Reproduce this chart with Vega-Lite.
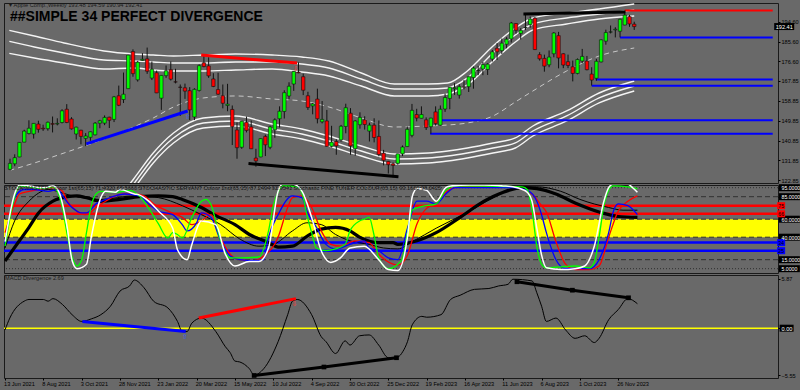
{
"$schema":"https://vega.github.io/schema/vega-lite/v6.json",
"background":"#696969",
"padding":{"left":2,"top":1,"right":0,"bottom":4},
"spacing":2,
"bounds":"flush",
"config":{"view":{"stroke":"#1a1a1a","strokeWidth":1},"axis":{"labelFont":"Liberation Sans","labelFontSize":5.6,"labelColor":"#000000","tickColor":"#000000","domain":false,"grid":false,"labelOverlap":false,"labelBound":false,"labelFlush":false},"text":{"font":"Liberation Sans"}},
"datasets":{
"candles":[
{"d":"2021-06-13","o":127.8,"h":132.6,"l":127.1,"c":130.5},{"d":"2021-06-20","o":130.3,"h":134.6,"l":129.2,"c":133.1},{"d":"2021-06-27","o":133.4,"h":140.0,"l":133.3,"c":140.0},{"d":"2021-07-04","o":140.1,"h":145.7,"l":140.1,"c":145.1},{"d":"2021-07-11","o":144.0,"h":150.0,"l":143.6,"c":146.4},{"d":"2021-07-18","o":143.8,"h":148.7,"l":141.7,"c":148.6},{"d":"2021-07-25","o":148.3,"h":149.8,"l":144.4,"c":145.9},{"d":"2021-08-01","o":146.4,"h":148.0,"l":145.2,"c":146.1},{"d":"2021-08-08","o":146.2,"h":149.4,"l":145.3,"c":149.1},{"d":"2021-08-15","o":148.5,"h":151.7,"l":144.5,"c":148.2},{"d":"2021-08-22","o":148.3,"h":150.9,"l":147.7,"c":148.6},{"d":"2021-08-29","o":149.0,"h":155.0,"l":148.6,"c":154.3},{"d":"2021-09-05","o":155.0,"h":157.3,"l":148.7,"c":149.0},{"d":"2021-09-12","o":150.6,"h":151.4,"l":145.8,"c":146.1},{"d":"2021-09-19","o":143.8,"h":147.1,"l":141.3,"c":146.9},{"d":"2021-09-26","o":145.5,"h":145.7,"l":139.1,"c":142.7},{"d":"2021-10-03","o":141.8,"h":144.2,"l":138.3,"c":142.9},{"d":"2021-10-10","o":142.3,"h":144.9,"l":140.7,"c":144.8},{"d":"2021-10-17","o":143.4,"h":149.2,"l":143.2,"c":148.7},{"d":"2021-10-24","o":148.7,"h":150.2,"l":146.4,"c":149.8},{"d":"2021-10-31","o":148.7,"h":152.2,"l":147.8,"c":151.3},{"d":"2021-11-07","o":151.4,"h":151.6,"l":146.5,"c":150.0},{"d":"2021-11-14","o":150.4,"h":161.0,"l":149.2,"c":160.6},{"d":"2021-11-21","o":161.1,"h":165.7,"l":156.4,"c":156.8},{"d":"2021-11-28","o":159.4,"h":171.6,"l":157.8,"c":161.8},{"d":"2021-12-05","o":164.3,"h":179.6,"l":164.3,"c":179.5},{"d":"2021-12-12","o":181.1,"h":182.1,"l":169.7,"c":171.1},{"d":"2021-12-19","o":168.3,"h":176.9,"l":167.5,"c":176.3},{"d":"2021-12-26","o":177.1,"h":180.4,"l":176.9,"c":177.6},
{"d":"2022-01-02","o":177.8,"h":182.9,"l":171.0,"c":172.2},{"d":"2022-01-09","o":169.1,"h":176.6,"l":168.2,"c":173.1},{"d":"2022-01-16","o":171.5,"h":172.5,"l":162.3,"c":162.4},{"d":"2022-01-23","o":160.0,"h":170.4,"l":154.7,"c":170.3},{"d":"2022-01-30","o":170.2,"h":174.8,"l":169.2,"c":172.4},{"d":"2022-02-06","o":172.9,"h":176.6,"l":168.0,"c":168.6},{"d":"2022-02-13","o":167.4,"h":173.3,"l":166.7,"c":167.3},{"d":"2022-02-20","o":165.0,"h":166.2,"l":152.0,"c":164.9},{"d":"2022-02-27","o":164.7,"h":166.6,"l":159.7,"c":163.2},{"d":"2022-03-06","o":163.4,"h":165.0,"l":150.1,"c":154.7},{"d":"2022-03-13","o":151.5,"h":164.5,"l":150.1,"c":164.0},{"d":"2022-03-20","o":163.5,"h":175.3,"l":163.0,"c":174.7},{"d":"2022-03-27","o":176.0,"h":179.6,"l":174.0,"c":174.3},{"d":"2022-04-03","o":174.6,"h":178.5,"l":169.2,"c":170.1},{"d":"2022-04-10","o":168.7,"h":171.3,"l":165.0,"c":165.3},{"d":"2022-04-17","o":163.9,"h":171.5,"l":161.5,"c":161.8},{"d":"2022-04-24","o":161.1,"h":166.2,"l":155.4,"c":157.7},{"d":"2022-05-01","o":156.7,"h":166.5,"l":154.1,"c":157.3},{"d":"2022-05-08","o":154.9,"h":156.7,"l":138.8,"c":147.1},{"d":"2022-05-15","o":145.6,"h":149.0,"l":132.6,"c":137.6},{"d":"2022-05-22","o":137.8,"h":149.7,"l":137.1,"c":149.6},{"d":"2022-05-29","o":149.1,"h":151.7,"l":144.5,"c":145.4},{"d":"2022-06-05","o":147.0,"h":149.9,"l":137.0,"c":137.1},{"d":"2022-06-12","o":132.9,"h":137.1,"l":129.0,"c":131.6},{"d":"2022-06-19","o":133.4,"h":141.9,"l":133.3,"c":141.7},{"d":"2022-06-26","o":142.7,"h":143.5,"l":133.8,"c":138.9},{"d":"2022-07-03","o":137.8,"h":147.6,"l":136.9,"c":147.0},{"d":"2022-07-10","o":145.7,"h":150.9,"l":142.1,"c":150.2},{"d":"2022-07-17","o":150.7,"h":156.3,"l":146.7,"c":154.1},{"d":"2022-07-24","o":154.0,"h":163.6,"l":150.8,"c":162.5},{"d":"2022-07-31","o":161.0,"h":167.2,"l":159.6,"c":165.4},{"d":"2022-08-07","o":166.4,"h":172.2,"l":163.3,"c":172.1},{"d":"2022-08-14","o":171.8,"h":176.2,"l":171.3,"c":171.5},{"d":"2022-08-21","o":169.7,"h":171.1,"l":161.4,"c":163.6},{"d":"2022-08-28","o":161.1,"h":162.9,"l":154.7,"c":155.8},{"d":"2022-09-04","o":156.5,"h":157.8,"l":152.7,"c":157.4},{"d":"2022-09-11","o":159.6,"h":164.3,"l":148.6,"c":150.7},{"d":"2022-09-18","o":149.3,"h":158.7,"l":148.6,"c":150.4},{"d":"2022-09-25","o":149.7,"h":154.7,"l":138.0,"c":138.2},{"d":"2022-10-02","o":138.2,"h":147.5,"l":137.7,"c":140.1},{"d":"2022-10-09","o":140.4,"h":141.4,"l":134.4,"c":138.4},{"d":"2022-10-16","o":141.1,"h":147.9,"l":140.3,"c":147.3},{"d":"2022-10-23","o":147.2,"h":157.5,"l":144.1,"c":155.7},{"d":"2022-10-30","o":153.2,"h":155.5,"l":134.4,"c":138.4},{"d":"2022-11-06","o":137.1,"h":150.0,"l":134.0,"c":149.7},{"d":"2022-11-13","o":148.0,"h":153.6,"l":146.2,"c":151.3},{"d":"2022-11-20","o":150.2,"h":151.8,"l":145.8,"c":148.1},{"d":"2022-11-27","o":145.1,"h":148.9,"l":140.4,"c":147.8},{"d":"2022-12-04","o":147.8,"h":150.9,"l":140.0,"c":142.2},{"d":"2022-12-11","o":142.7,"h":149.9,"l":133.7,"c":134.5},{"d":"2022-12-18","o":135.1,"h":136.6,"l":129.6,"c":131.9},{"d":"2022-12-25","o":131.4,"h":131.6,"l":125.9,"c":129.9},
{"d":"2023-01-01","o":130.3,"h":130.9,"l":124.2,"c":129.6},{"d":"2023-01-08","o":130.5,"h":134.9,"l":129.9,"c":134.8},{"d":"2023-01-15","o":134.8,"h":138.6,"l":133.8,"c":137.9},{"d":"2023-01-22","o":138.1,"h":147.2,"l":137.9,"c":145.9},{"d":"2023-01-29","o":143.2,"h":157.4,"l":142.3,"c":154.5},{"d":"2023-02-05","o":152.6,"h":155.2,"l":149.5,"c":151.0},{"d":"2023-02-12","o":150.9,"h":156.3,"l":150.9,"c":152.6},{"d":"2023-02-19","o":150.2,"h":151.3,"l":145.6,"c":146.7},{"d":"2023-02-26","o":147.1,"h":151.1,"l":143.9,"c":151.0},{"d":"2023-03-05","o":153.8,"h":156.3,"l":147.6,"c":148.5},{"d":"2023-03-12","o":147.8,"h":156.7,"l":147.6,"c":155.0},{"d":"2023-03-19","o":155.1,"h":162.1,"l":153.8,"c":160.3},{"d":"2023-03-26","o":159.9,"h":165.0,"l":155.0,"c":164.9},{"d":"2023-04-02","o":164.3,"h":166.8,"l":161.5,"c":164.7},{"d":"2023-04-09","o":161.4,"h":166.3,"l":159.8,"c":165.2},{"d":"2023-04-16","o":165.1,"h":168.2,"l":164.0,"c":165.0},{"d":"2023-04-23","o":165.2,"h":169.9,"l":162.8,"c":169.7},{"d":"2023-04-30","o":169.3,"h":174.3,"l":164.3,"c":173.6},{"d":"2023-05-07","o":172.5,"h":174.6,"l":170.4,"c":172.6},{"d":"2023-05-14","o":173.2,"h":176.4,"l":170.4,"c":175.2},{"d":"2023-05-21","o":173.0,"h":175.8,"l":170.5,"c":175.4},{"d":"2023-05-28","o":177.7,"h":181.8,"l":176.6,"c":181.0},{"d":"2023-06-04","o":182.6,"h":184.9,"l":177.3,"c":181.0},{"d":"2023-06-11","o":181.5,"h":187.0,"l":180.0,"c":184.9},{"d":"2023-06-18","o":184.4,"h":187.6,"l":182.6,"c":186.7},{"d":"2023-06-25","o":186.8,"h":194.5,"l":185.2,"c":194.0},{"d":"2023-07-02","o":193.8,"h":193.9,"l":189.2,"c":190.7},{"d":"2023-07-09","o":189.3,"h":191.7,"l":186.6,"c":190.7},{"d":"2023-07-16","o":191.9,"h":198.2,"l":190.8,"c":192.0},{"d":"2023-07-23","o":193.3,"h":197.0,"l":191.9,"c":195.8},{"d":"2023-07-30","o":196.2,"h":196.7,"l":181.9,"c":182.0},{"d":"2023-08-06","o":179.7,"h":180.8,"l":177.0,"c":177.8},{"d":"2023-08-13","o":178.0,"h":179.7,"l":172.0,"c":174.5},{"d":"2023-08-20","o":175.1,"h":181.6,"l":174.0,"c":178.6},{"d":"2023-08-27","o":180.1,"h":189.9,"l":178.5,"c":189.5},{"d":"2023-09-03","o":188.3,"h":190.0,"l":173.5,"c":178.2},{"d":"2023-09-10","o":180.1,"h":180.3,"l":173.6,"c":175.0},{"d":"2023-09-17","o":176.5,"h":179.7,"l":173.6,"c":174.8},{"d":"2023-09-24","o":174.2,"h":177.0,"l":167.6,"c":171.2},{"d":"2023-10-01","o":171.2,"h":178.0,"l":170.8,"c":177.5},{"d":"2023-10-08","o":176.8,"h":182.3,"l":175.8,"c":178.9},{"d":"2023-10-15","o":176.8,"h":179.1,"l":172.6,"c":172.9},{"d":"2023-10-22","o":170.9,"h":174.0,"l":165.7,"c":168.2},{"d":"2023-10-29","o":169.0,"h":177.8,"l":167.9,"c":176.7},{"d":"2023-11-05","o":176.4,"h":186.6,"l":176.2,"c":186.4},{"d":"2023-11-12","o":185.8,"h":191.0,"l":184.2,"c":189.7},{"d":"2023-11-19","o":189.9,"h":192.9,"l":189.3,"c":190.0},{"d":"2023-11-26","o":190.9,"h":192.1,"l":187.5,"c":191.2},{"d":"2023-12-03","o":190.3,"h":196.0,"l":187.5,"c":195.7},{"d":"2023-12-10","o":193.1,"h":199.6,"l":193.0,"c":197.6},{"d":"2023-12-17","o":196.9,"h":197.7,"l":192.3,"c":193.6},{"d":"2023-12-24","o":193.5,"h":194.6,"l":190.9,"c":192.4}],
"bands":[
{"d":"2021-06-12","u1":190.7,"u2":185.7,"u3":180.3,"m":127.3},
{"d":"2021-07-19","u1":188.14,"u2":183.17,"u3":178.19,"m":130.67},
{"d":"2021-09-01","u1":184.98,"u2":180.45,"u3":175.93,"m":135.2},
{"d":"2021-10-30","u1":181.35,"u2":177.28,"u3":173.21,"m":141.54,"l1":106.69,"l2":104.43,"l3":102.17},
{"d":"2021-12-13","u1":179.99,"u2":176.83,"u3":173.67,"m":146.97,"l1":123.43,"l2":121.17,"l3":118.91},
{"d":"2022-01-11","u1":179.54,"u2":176.38,"u3":172.76,"m":151.04,"l1":135.2,"l2":132.94,"l3":130.67},
{"d":"2022-02-10","u1":179.09,"u2":175.93,"u3":172.31,"m":156.02,"l1":144.25,"l2":141.99,"l3":139.73},
{"d":"2022-03-26","u1":179.54,"u2":175.93,"u3":172.31,"m":160.09,"l1":151.04,"l2":148.78,"l3":146.51},
{"d":"2022-05-13","u1":179.99,"u2":176.38,"u3":172.76,"m":161.0,"l1":151.94,"l2":149.68,"l3":147.42},
{"d":"2022-07-06","u1":179.54,"u2":176.38,"u3":173.21,"m":159.64,"l1":148.32,"l2":146.06,"l3":143.8},
{"d":"2022-08-19","u1":178.64,"u2":175.47,"u3":171.86,"m":158.73,"l1":146.06,"l2":143.8,"l3":141.54},
{"d":"2022-09-28","u1":176.83,"u2":173.67,"u3":170.04,"m":156.02,"l1":142.89,"l2":140.63,"l3":138.37},
{"d":"2022-11-15","u1":171.4,"u2":168.69,"u3":165.52,"m":151.04,"l1":138.37,"l2":136.11,"l3":133.84},
{"d":"2023-01-03","u1":166.42,"u2":164.16,"u3":161.0,"m":146.97,"l1":134.75,"l2":132.49,"l3":130.22},
{"d":"2023-02-22","u1":166.42,"u2":164.16,"u3":161.0,"m":147.42,"l1":135.2,"l2":132.94,"l3":130.67},
{"d":"2023-03-23","u1":166.88,"u2":164.61,"u3":161.9,"m":147.87,"l1":136.11,"l2":133.84,"l3":131.58},
{"d":"2023-04-21","u1":172.31,"u2":169.14,"u3":166.0,"m":148.78,"l1":137.46,"l2":135.2,"l3":132.94},
{"d":"2023-05-29","u1":183.62,"u2":180.45,"u3":176.83,"m":151.94,"l1":139.73,"l2":137.46,"l3":135.2},
{"d":"2023-07-01","u1":191.76,"u2":188.59,"u3":185.43,"m":158.28,"l1":141.99,"l2":139.73,"l3":137.46},
{"d":"2023-07-27","u1":196.29,"u2":193.57,"u3":190.86,"m":163.26,"l1":147.42,"l2":145.16,"l3":142.89},
{"d":"2023-09-15","u1":198.55,"u2":196.29,"u3":193.57,"m":172.31,"l1":154.21,"l2":151.94,"l3":149.68},
{"d":"2023-11-02","u1":200.36,"u2":198.1,"u3":195.83,"m":179.09,"l1":162.35,"l2":160.09,"l3":157.83},
{"d":"2023-12-24","u1":202.62,"u2":199.91,"u3":197.19,"m":182.71,"l1":167.78,"l2":165.52,"l3":163.26}],
"pBull":[{"d":"2021-10-04","p":139.3},{"d":"2022-03-03","p":154.2}],
"pBear":[{"d":"2022-03-23","p":179.5},{"d":"2022-08-12","p":175.9}],
"pBlack":[{"seg":"low","d":"2022-06-01","p":130.4},{"seg":"low","d":"2023-01-09","p":124.5},{"seg":"high","d":"2023-07-13","p":198.1},{"seg":"high","d":"2023-12-11","p":199.0}],
"pRes":[{"d":"2023-12-10","end":"2024-07-16","p":199.62}],
"pSup":[{"d":"2023-12-03","end":"2024-07-16","p":187.45},{"d":"2023-10-28","end":"2024-07-16","p":168.4},{"d":"2023-10-22","end":"2024-07-16","p":165.67},{"d":"2023-03-10","end":"2024-07-16","p":150.0},{"d":"2023-02-25","end":"2024-07-16","p":143.9}],
"pArrowUp":[{"d":"2022-03-03","p":151.3,"sym":"⇧"}],
"pArrowDn":[{"d":"2022-08-10","p":173.4,"sym":"⇩"}],
"pTitle":[{"d":"2021-06-13","p":194.93,"t":"##SIMPLE 34 PERFECT DIVERGENCE"}],
"pHeader":[{"d":"2021-06-12","p":201.26,"t":"▾  Apple Comp.,Weekly  193.48 194.59 190.94 192.41"}],
"pLast":[{"p":192.41}],
"stA":[{"d":"2021-06-13","v":35},{"d":"2021-06-27","v":88},{"d":"2021-07-04","v":98},{"d":"2021-07-18","v":97},{"d":"2021-08-08","v":95},{"d":"2021-08-22","v":97},{"d":"2021-08-29","v":93},{"d":"2021-09-12","v":50},{"d":"2021-09-19","v":14},{"d":"2021-09-26","v":5},{"d":"2021-10-10","v":10},{"d":"2021-10-17","v":40},{"d":"2021-10-31","v":84},{"d":"2021-11-07","v":91},{"d":"2021-11-21","v":90},{"d":"2021-11-28","v":93},{"d":"2021-12-19","v":88},{"d":"2021-12-26","v":87},{"d":"2022-01-09","v":80},{"d":"2022-01-23","v":69},{"d":"2022-02-13","v":50},{"d":"2022-02-20","v":26},{"d":"2022-03-06","v":15},{"d":"2022-03-13","v":32},{"d":"2022-03-27","v":58},{"d":"2022-04-17","v":54},{"d":"2022-05-01","v":21},{"d":"2022-05-15","v":8},{"d":"2022-06-05","v":13},{"d":"2022-06-19","v":13},{"d":"2022-07-03","v":28},{"d":"2022-07-17","v":91},{"d":"2022-07-24","v":99},{"d":"2022-08-07","v":99},{"d":"2022-08-21","v":91},{"d":"2022-09-04","v":62},{"d":"2022-09-18","v":25},{"d":"2022-10-02","v":12},{"d":"2022-10-16","v":17},{"d":"2022-10-30","v":28},{"d":"2022-11-20","v":30},{"d":"2022-12-11","v":15},{"d":"2022-12-25","v":4},{"d":"2023-01-08","v":3},{"d":"2023-01-22","v":40},{"d":"2023-01-29","v":85},{"d":"2023-02-05","v":94},{"d":"2023-02-19","v":92},{"d":"2023-03-05","v":80},{"d":"2023-03-19","v":95},{"d":"2023-03-26","v":97},{"d":"2023-04-23","v":98},{"d":"2023-05-14","v":98},{"d":"2023-06-11","v":97},{"d":"2023-06-25","v":96},{"d":"2023-07-09","v":93},{"d":"2023-07-16","v":90},{"d":"2023-07-23","v":80},{"d":"2023-07-30","v":50},{"d":"2023-08-06","v":20},{"d":"2023-08-13","v":6},{"d":"2023-09-03","v":4},{"d":"2023-09-24","v":5},{"d":"2023-10-08","v":8},{"d":"2023-10-22","v":30},{"d":"2023-11-05","v":80},{"d":"2023-11-12","v":95},{"d":"2023-11-19","v":99},{"d":"2023-12-10","v":99},{"d":"2023-12-17","v":95},{"d":"2023-12-24","v":90}],
"stB":[{"d":"2021-06-13","v":30},{"d":"2021-06-27","v":85},{"d":"2021-07-04","v":97},{"d":"2021-07-18","v":96},{"d":"2021-08-08","v":94},{"d":"2021-08-22","v":96},{"d":"2021-08-29","v":90},{"d":"2021-09-05","v":72},{"d":"2021-09-12","v":42},{"d":"2021-09-19","v":18},{"d":"2021-09-26","v":8},{"d":"2021-10-03","v":15},{"d":"2021-10-10","v":45},{"d":"2021-10-17","v":75},{"d":"2021-10-24","v":88},{"d":"2021-10-31","v":91},{"d":"2021-11-21","v":90},{"d":"2021-12-12","v":92},{"d":"2021-12-26","v":86},{"d":"2022-01-09","v":72},{"d":"2022-01-23","v":55},{"d":"2022-02-06","v":39},{"d":"2022-02-13","v":45},{"d":"2022-02-20","v":43},{"d":"2022-02-27","v":39},{"d":"2022-03-13","v":62},{"d":"2022-03-27","v":80},{"d":"2022-04-03","v":82},{"d":"2022-04-10","v":76},{"d":"2022-04-24","v":36},{"d":"2022-05-08","v":17},{"d":"2022-05-22","v":17},{"d":"2022-06-19","v":18},{"d":"2022-07-03","v":47},{"d":"2022-07-10","v":75},{"d":"2022-07-17","v":90},{"d":"2022-07-24","v":97},{"d":"2022-08-14","v":96},{"d":"2022-08-21","v":89},{"d":"2022-08-28","v":65},{"d":"2022-09-04","v":45},{"d":"2022-09-11","v":28},{"d":"2022-09-25","v":25},{"d":"2022-10-09","v":27},{"d":"2022-10-23","v":32},{"d":"2022-10-30","v":47},{"d":"2022-11-13","v":58},{"d":"2022-11-20","v":60},{"d":"2022-11-27","v":62},{"d":"2022-12-04","v":43},{"d":"2022-12-11","v":17},{"d":"2022-12-25","v":5},{"d":"2023-01-08","v":10},{"d":"2023-01-15","v":17},{"d":"2023-01-22","v":45},{"d":"2023-01-29","v":70},{"d":"2023-02-12","v":74},{"d":"2023-03-05","v":77},{"d":"2023-03-19","v":92},{"d":"2023-04-02","v":97},{"d":"2023-07-09","v":96},{"d":"2023-07-16","v":93},{"d":"2023-07-23","v":70},{"d":"2023-07-30","v":30},{"d":"2023-08-06","v":10},{"d":"2023-08-13","v":6},{"d":"2023-09-03","v":7},{"d":"2023-09-24","v":8},{"d":"2023-10-15","v":6},{"d":"2023-10-22","v":12},{"d":"2023-10-29","v":40},{"d":"2023-11-05","v":75},{"d":"2023-11-12","v":92},{"d":"2023-11-19","v":97},{"d":"2023-12-10","v":96},{"d":"2023-12-24","v":94}],
"stC":[{"d":"2021-06-13","v":45},{"d":"2021-06-27","v":77},{"d":"2021-07-04","v":88},{"d":"2021-07-18","v":91},{"d":"2021-08-01","v":93},{"d":"2021-08-22","v":95},{"d":"2021-08-29","v":94},{"d":"2021-09-05","v":91},{"d":"2021-09-12","v":80},{"d":"2021-09-26","v":69},{"d":"2021-10-10","v":65},{"d":"2021-10-24","v":73},{"d":"2021-11-07","v":80},{"d":"2021-11-21","v":86},{"d":"2021-12-05","v":88},{"d":"2021-12-19","v":88},{"d":"2022-01-02","v":86},{"d":"2022-01-16","v":77},{"d":"2022-02-06","v":69},{"d":"2022-02-27","v":62},{"d":"2022-03-13","v":54},{"d":"2022-03-27","v":58},{"d":"2022-04-10","v":65},{"d":"2022-04-24","v":39},{"d":"2022-05-08","v":21},{"d":"2022-05-22","v":15},{"d":"2022-06-12","v":14},{"d":"2022-06-26","v":19},{"d":"2022-07-17","v":40},{"d":"2022-07-31","v":73},{"d":"2022-08-07","v":84},{"d":"2022-08-21","v":86},{"d":"2022-09-04","v":73},{"d":"2022-09-18","v":47},{"d":"2022-10-02","v":32},{"d":"2022-10-16","v":30},{"d":"2022-11-06","v":36},{"d":"2022-11-27","v":34},{"d":"2022-12-11","v":21},{"d":"2023-01-01","v":10},{"d":"2023-01-08","v":9},{"d":"2023-01-22","v":20},{"d":"2023-02-05","v":55},{"d":"2023-02-19","v":72},{"d":"2023-03-05","v":77},{"d":"2023-03-19","v":90},{"d":"2023-04-02","v":95},{"d":"2023-04-23","v":96},{"d":"2023-06-25","v":96},{"d":"2023-07-09","v":93},{"d":"2023-07-23","v":88},{"d":"2023-08-06","v":75},{"d":"2023-08-13","v":68},{"d":"2023-08-27","v":35},{"d":"2023-09-10","v":10},{"d":"2023-09-24","v":4},{"d":"2023-10-15","v":4},{"d":"2023-10-29","v":8},{"d":"2023-11-12","v":40},{"d":"2023-11-26","v":69},{"d":"2023-12-10","v":80},{"d":"2023-12-24","v":86}],
"stD":[{"d":"2021-06-13","v":35},{"d":"2021-06-27","v":84},{"d":"2021-07-11","v":93},{"d":"2021-07-25","v":93},{"d":"2021-08-15","v":91},{"d":"2021-08-29","v":93},{"d":"2021-09-05","v":86},{"d":"2021-09-19","v":73},{"d":"2021-10-03","v":67},{"d":"2021-10-10","v":67},{"d":"2021-10-24","v":77},{"d":"2021-11-07","v":82},{"d":"2021-11-21","v":86},{"d":"2021-12-05","v":88},{"d":"2021-12-26","v":86},{"d":"2022-01-09","v":77},{"d":"2022-01-23","v":69},{"d":"2022-02-13","v":65},{"d":"2022-02-27","v":54},{"d":"2022-03-06","v":47},{"d":"2022-03-20","v":56},{"d":"2022-03-27","v":67},{"d":"2022-04-10","v":62},{"d":"2022-04-24","v":36},{"d":"2022-05-08","v":19},{"d":"2022-05-22","v":15},{"d":"2022-06-12","v":14},{"d":"2022-06-26","v":15},{"d":"2022-07-03","v":40},{"d":"2022-07-17","v":65},{"d":"2022-08-07","v":86},{"d":"2022-08-21","v":84},{"d":"2022-08-28","v":69},{"d":"2022-09-11","v":51},{"d":"2022-09-25","v":32},{"d":"2022-10-09","v":27},{"d":"2022-10-30","v":32},{"d":"2022-11-20","v":36},{"d":"2022-11-27","v":28},{"d":"2022-12-11","v":25},{"d":"2022-12-25","v":17},{"d":"2023-01-08","v":15},{"d":"2023-01-22","v":50},{"d":"2023-02-05","v":80},{"d":"2023-02-19","v":80},{"d":"2023-03-05","v":77},{"d":"2023-03-19","v":88},{"d":"2023-04-02","v":95},{"d":"2023-06-25","v":95},{"d":"2023-07-16","v":92},{"d":"2023-07-30","v":80},{"d":"2023-08-06","v":65},{"d":"2023-08-13","v":45},{"d":"2023-08-27","v":15},{"d":"2023-09-10","v":5},{"d":"2023-10-15","v":5},{"d":"2023-10-29","v":15},{"d":"2023-11-12","v":45},{"d":"2023-11-19","v":69},{"d":"2023-11-26","v":77},{"d":"2023-12-10","v":75},{"d":"2023-12-24","v":65}],
"stE":[{"d":"2021-06-13","v":28},{"d":"2021-06-27","v":58},{"d":"2021-07-18","v":80},{"d":"2021-08-01","v":89},{"d":"2021-08-15","v":93},{"d":"2021-09-05","v":89},{"d":"2021-09-19","v":86},{"d":"2021-10-31","v":82},{"d":"2021-12-19","v":86},{"d":"2022-01-23","v":84},{"d":"2022-02-27","v":75},{"d":"2022-03-27","v":65},{"d":"2022-04-24","v":54},{"d":"2022-05-22","v":38},{"d":"2022-06-19","v":30},{"d":"2022-07-10","v":32},{"d":"2022-08-07","v":47},{"d":"2022-08-28","v":56},{"d":"2022-09-18","v":54},{"d":"2022-10-09","v":43},{"d":"2022-10-30","v":36},{"d":"2022-11-27","v":32},{"d":"2022-12-18","v":28},{"d":"2023-01-08","v":27},{"d":"2023-01-29","v":35},{"d":"2023-03-05","v":50},{"d":"2023-04-23","v":69},{"d":"2023-05-28","v":84},{"d":"2023-07-02","v":95},{"d":"2023-07-30","v":96},{"d":"2023-09-03","v":91},{"d":"2023-10-01","v":82},{"d":"2023-11-12","v":73},{"d":"2023-12-03","v":70},{"d":"2023-12-24","v":70}],
"stF":[{"d":"2021-06-13","v":13.5},{"d":"2021-06-20","v":21},{"d":"2021-07-04","v":36},{"d":"2021-07-18","v":51},{"d":"2021-08-01","v":67},{"d":"2021-08-22","v":80},{"d":"2021-09-12","v":85},{"d":"2021-09-26","v":86},{"d":"2021-10-10","v":84},{"d":"2021-10-31","v":80},{"d":"2021-11-28","v":82},{"d":"2021-12-26","v":85},{"d":"2022-01-23","v":86},{"d":"2022-02-13","v":85},{"d":"2022-02-27","v":82},{"d":"2022-03-27","v":73},{"d":"2022-04-17","v":64},{"d":"2022-05-15","v":54},{"d":"2022-06-05","v":43},{"d":"2022-07-03","v":34},{"d":"2022-07-17","v":29},{"d":"2022-08-07","v":30},{"d":"2022-08-28","v":41},{"d":"2022-09-18","v":49},{"d":"2022-10-09","v":51},{"d":"2022-10-30","v":47},{"d":"2022-11-13","v":40},{"d":"2022-12-11","v":34},{"d":"2023-01-01","v":34},{"d":"2023-01-08","v":32},{"d":"2023-02-05","v":36},{"d":"2023-03-05","v":45},{"d":"2023-04-09","v":62},{"d":"2023-05-14","v":80},{"d":"2023-06-11","v":90},{"d":"2023-07-09","v":95},{"d":"2023-07-30","v":94},{"d":"2023-08-27","v":88},{"d":"2023-09-24","v":78},{"d":"2023-10-29","v":68},{"d":"2023-11-26","v":63},{"d":"2023-12-24","v":62}],
"stHeader":[{"d":"2021-06-12","v":92.1,"t":"STOCH MASTER Colour 1st(65,15) 71.4320 65.5660 STOCHASTIC SERVANT Colour 2nd(65,15) 87.2494 92.9541 Stochastic FINE TUNER COLOUR(65,15) 93.1600 98.0425"}],
"macd":[{"d":"2021-06-13","v":-0.2},{"d":"2021-06-20","v":1.2},{"d":"2021-07-11","v":3.2},{"d":"2021-07-18","v":3.4},{"d":"2021-08-08","v":3.4},{"d":"2021-08-15","v":3.2},{"d":"2021-08-22","v":3.5},{"d":"2021-09-05","v":2.8},{"d":"2021-09-19","v":1.6},{"d":"2021-10-03","v":0.8},{"d":"2021-10-17","v":1.1},{"d":"2021-10-31","v":1.6},{"d":"2021-11-14","v":2.6},{"d":"2021-11-28","v":4.4},{"d":"2021-12-12","v":5.0},{"d":"2021-12-19","v":5.7},{"d":"2022-01-02","v":4.8},{"d":"2022-01-16","v":3.2},{"d":"2022-02-06","v":2.4},{"d":"2022-02-20","v":0.8},{"d":"2022-02-27","v":-0.4},{"d":"2022-03-06","v":-0.4},{"d":"2022-03-13","v":0.6},{"d":"2022-03-27","v":1.2},{"d":"2022-04-17","v":-0.4},{"d":"2022-05-01","v":-2.2},{"d":"2022-05-08","v":-2.9},{"d":"2022-05-15","v":-3.9},{"d":"2022-05-22","v":-4.0},{"d":"2022-06-05","v":-4.8},{"d":"2022-06-12","v":-5.55},{"d":"2022-06-26","v":-4.8},{"d":"2022-07-17","v":-1.6},{"d":"2022-07-31","v":1.6},{"d":"2022-08-07","v":3.2},{"d":"2022-08-14","v":3.4},{"d":"2022-09-04","v":1.6},{"d":"2022-09-18","v":-1.0},{"d":"2022-09-25","v":-1.6},{"d":"2022-10-09","v":-3.0},{"d":"2022-10-23","v":-1.5},{"d":"2022-10-30","v":-2.0},{"d":"2022-11-13","v":-0.9},{"d":"2022-11-27","v":-0.8},{"d":"2022-12-11","v":-2.0},{"d":"2022-12-25","v":-3.5},{"d":"2023-01-08","v":-3.4},{"d":"2023-01-15","v":-2.8},{"d":"2023-01-22","v":-1.6},{"d":"2023-01-29","v":0.4},{"d":"2023-02-12","v":1.4},{"d":"2023-02-19","v":1.3},{"d":"2023-03-12","v":1.6},{"d":"2023-03-26","v":3.4},{"d":"2023-04-09","v":3.9},{"d":"2023-04-30","v":4.6},{"d":"2023-05-21","v":4.7},{"d":"2023-06-04","v":5.0},{"d":"2023-06-18","v":5.2},{"d":"2023-06-25","v":5.8},{"d":"2023-07-23","v":5.6},{"d":"2023-07-30","v":4.2},{"d":"2023-08-06","v":2.6},{"d":"2023-08-13","v":0.8},{"d":"2023-08-27","v":1.2},{"d":"2023-09-10","v":-0.2},{"d":"2023-09-24","v":-1.2},{"d":"2023-10-08","v":-0.9},{"d":"2023-10-22","v":-1.7},{"d":"2023-10-29","v":-1.2},{"d":"2023-11-12","v":1.0},{"d":"2023-11-26","v":2.2},{"d":"2023-12-10","v":3.5},{"d":"2023-12-24","v":2.9}],
"mBull":[{"d":"2021-10-04","v":0.8},{"d":"2022-03-04","v":-0.4}],
"mBear":[{"d":"2022-03-23","v":1.2},{"d":"2022-08-12","v":3.5}],
"mBlack":[{"seg":"low","d":"2022-06-12","v":-5.6},{"seg":"low","d":"2022-09-22","v":-4.6},{"seg":"low","d":"2023-01-06","v":-3.5},{"seg":"high","d":"2023-07-01","v":5.5},{"seg":"high","d":"2023-09-20","v":4.5},{"seg":"high","d":"2023-12-11","v":3.6}],
"mArrowUp":[{"d":"2022-03-03","v":-1.0,"sym":"⇧"}],
"mArrowDn":[{"d":"2022-08-10","v":2.9,"sym":"⇩"}],
"mHeader":[{"d":"2021-06-13","v":5.67,"t":"MACD Divergence 2.69"}]
},
"vconcat":[
{"width":774,"height":180,
"resolve":{"axis":{"y":"independent"}},
"layer":[
{"data":{"name":"bands"},"transform":[{"fold":["u1","u2","u3","l1","l2","l3"],"as":["band","p"]},{"filter":"isValid(datum.p)"}],"mark":{"type":"line","color":"#f4f4f4","strokeWidth":1.4,"clip":true,"interpolate":"monotone"},"encoding":{"x":{"field":"d","type":"temporal","scale":{"type":"utc","domain":[{"year":2021,"month":6,"date":11,"hours":12,"utc":true},{"year":2024,"month":7,"date":16,"hours":10,"utc":true}]},"axis":null},"y":{"field":"p","type":"quantitative","scale":{"domain":[121.62,203.07],"nice":false,"zero":false},"axis":{"orient":"right","title":null,"zindex":1,"labelOverlap":false,"values":[122.85,131.85,140.85,149.85,158.85,167.85,176.6,185.6,194.6],"format":".2f","tickSize":2,"labelPadding":1}},"detail":{"field":"band"}}},
{"data":{"name":"bands"},"mark":{"type":"line","color":"#c8c8c8","strokeWidth":1,"strokeDash":[5,4],"clip":true,"interpolate":"monotone"},"encoding":{"x":{"field":"d","type":"temporal","scale":{"type":"utc","domain":[{"year":2021,"month":6,"date":11,"hours":12,"utc":true},{"year":2024,"month":7,"date":16,"hours":10,"utc":true}]},"axis":null},"y":{"field":"m","type":"quantitative","scale":{"domain":[121.62,203.07],"nice":false,"zero":false},"axis":null}}},
{"data":{"name":"pSup"},"mark":{"type":"rule","color":"#0000ff","strokeWidth":2},"encoding":{"x":{"field":"d","type":"temporal","scale":{"type":"utc","domain":[{"year":2021,"month":6,"date":11,"hours":12,"utc":true},{"year":2024,"month":7,"date":16,"hours":10,"utc":true}]},"axis":null},"x2":{"field":"end"},"y":{"field":"p","type":"quantitative","scale":{"domain":[121.62,203.07],"nice":false,"zero":false},"axis":null}}},
{"data":{"name":"pRes"},"mark":{"type":"rule","color":"#ff0000","strokeWidth":2},"encoding":{"x":{"field":"d","type":"temporal","scale":{"type":"utc","domain":[{"year":2021,"month":6,"date":11,"hours":12,"utc":true},{"year":2024,"month":7,"date":16,"hours":10,"utc":true}]},"axis":null},"x2":{"field":"end"},"y":{"field":"p","type":"quantitative","scale":{"domain":[121.62,203.07],"nice":false,"zero":false},"axis":null}}},
{"data":{"name":"candles"},"mark":{"type":"rule","color":"#111111","strokeWidth":1},"encoding":{"x":{"field":"d","type":"temporal","scale":{"type":"utc","domain":[{"year":2021,"month":6,"date":11,"hours":12,"utc":true},{"year":2024,"month":7,"date":16,"hours":10,"utc":true}]},"axis":null},"y":{"field":"l","type":"quantitative","scale":{"domain":[121.62,203.07],"nice":false,"zero":false},"axis":null},"y2":{"field":"h"}}},
{"data":{"name":"candles"},"mark":{"type":"bar","size":3.4,"stroke":"#111111","strokeWidth":0.6},"encoding":{"x":{"field":"d","type":"temporal","scale":{"type":"utc","domain":[{"year":2021,"month":6,"date":11,"hours":12,"utc":true},{"year":2024,"month":7,"date":16,"hours":10,"utc":true}]},"axis":null},"y":{"field":"o","type":"quantitative","scale":{"domain":[121.62,203.07],"nice":false,"zero":false},"axis":null},"y2":{"field":"c"},"color":{"condition":{"test":"datum.c >= datum.o","value":"#00ff00"},"value":"#ff0000"}}},
{"data":{"name":"pBull"},"mark":{"type":"line","color":"#0000ff","strokeWidth":3},"encoding":{"x":{"field":"d","type":"temporal","scale":{"type":"utc","domain":[{"year":2021,"month":6,"date":11,"hours":12,"utc":true},{"year":2024,"month":7,"date":16,"hours":10,"utc":true}]},"axis":null},"y":{"field":"p","type":"quantitative","scale":{"domain":[121.62,203.07],"nice":false,"zero":false},"axis":null}}},
{"data":{"name":"pBear"},"mark":{"type":"line","color":"#ff0000","strokeWidth":3},"encoding":{"x":{"field":"d","type":"temporal","scale":{"type":"utc","domain":[{"year":2021,"month":6,"date":11,"hours":12,"utc":true},{"year":2024,"month":7,"date":16,"hours":10,"utc":true}]},"axis":null},"y":{"field":"p","type":"quantitative","scale":{"domain":[121.62,203.07],"nice":false,"zero":false},"axis":null}}},
{"data":{"name":"pBlack"},"mark":{"type":"line","color":"#000000","strokeWidth":3},"encoding":{"x":{"field":"d","type":"temporal","scale":{"type":"utc","domain":[{"year":2021,"month":6,"date":11,"hours":12,"utc":true},{"year":2024,"month":7,"date":16,"hours":10,"utc":true}]},"axis":null},"y":{"field":"p","type":"quantitative","scale":{"domain":[121.62,203.07],"nice":false,"zero":false},"axis":null},"detail":{"field":"seg"}}},
{"data":{"name":"pArrowUp"},"mark":{"type":"text","color":"#3a5cff","fontSize":7,"font":"DejaVu Sans"},"encoding":{"x":{"field":"d","type":"temporal","scale":{"type":"utc","domain":[{"year":2021,"month":6,"date":11,"hours":12,"utc":true},{"year":2024,"month":7,"date":16,"hours":10,"utc":true}]},"axis":null},"y":{"field":"p","type":"quantitative","scale":{"domain":[121.62,203.07],"nice":false,"zero":false},"axis":null},"text":{"field":"sym"}}},
{"data":{"name":"pArrowDn"},"mark":{"type":"text","color":"#ff3030","fontSize":7,"font":"DejaVu Sans"},"encoding":{"x":{"field":"d","type":"temporal","scale":{"type":"utc","domain":[{"year":2021,"month":6,"date":11,"hours":12,"utc":true},{"year":2024,"month":7,"date":16,"hours":10,"utc":true}]},"axis":null},"y":{"field":"p","type":"quantitative","scale":{"domain":[121.62,203.07],"nice":false,"zero":false},"axis":null},"text":{"field":"sym"}}},
{"data":{"name":"pTitle"},"mark":{"type":"text","align":"left","baseline":"alphabetic","fontSize":14,"fontWeight":"bold","color":"#000000"},"encoding":{"x":{"field":"d","type":"temporal","scale":{"type":"utc","domain":[{"year":2021,"month":6,"date":11,"hours":12,"utc":true},{"year":2024,"month":7,"date":16,"hours":10,"utc":true}]},"axis":null},"y":{"field":"p","type":"quantitative","scale":{"domain":[121.62,203.07],"nice":false,"zero":false},"axis":null},"text":{"field":"t"}}},
{"data":{"name":"pHeader"},"mark":{"type":"text","align":"left","baseline":"alphabetic","fontSize":5.7,"color":"#1a1a1a"},"encoding":{"x":{"field":"d","type":"temporal","scale":{"type":"utc","domain":[{"year":2021,"month":6,"date":11,"hours":12,"utc":true},{"year":2024,"month":7,"date":16,"hours":10,"utc":true}]},"axis":null},"y":{"field":"p","type":"quantitative","scale":{"domain":[121.62,203.07],"nice":false,"zero":false},"axis":null},"text":{"field":"t"}}},
{"data":{"name":"pLast"},"mark":{"type":"point","shape":"M-1,-0.35H1V0.35H-1Z","size":400,"filled":true,"color":"#000000","opacity":1},"encoding":{"x":{"datum":{"year":2024,"month":8,"date":2,"utc":true},"type":"temporal","scale":{"type":"utc","domain":[{"year":2021,"month":6,"date":11,"hours":12,"utc":true},{"year":2024,"month":7,"date":16,"hours":10,"utc":true}]},"axis":null},"y":{"field":"p","type":"quantitative","scale":{"domain":[121.62,203.07],"nice":false,"zero":false},"axis":null}}},
{"data":{"name":"pLast"},"mark":{"type":"text","fontSize":5.6,"color":"#ffffff","align":"center","baseline":"middle"},"encoding":{"x":{"datum":{"year":2024,"month":8,"date":2,"utc":true},"type":"temporal","scale":{"type":"utc","domain":[{"year":2021,"month":6,"date":11,"hours":12,"utc":true},{"year":2024,"month":7,"date":16,"hours":10,"utc":true}]},"axis":null},"y":{"field":"p","type":"quantitative","scale":{"domain":[121.62,203.07],"nice":false,"zero":false},"axis":null},"text":{"field":"p","format":".2f"}}}
]},
{"width":774,"height":88,
"resolve":{"axis":{"y":"independent"}},
"layer":[
{"data":{"values":[{"lo":40,"hi":60}]},"mark":{"type":"rect","color":"#ffff00"},"encoding":{"y":{"field":"lo","type":"quantitative","scale":{"domain":[0.2,98],"nice":false,"zero":false},"axis":{"orient":"right","title":null,"zindex":1,"labelOverlap":false,"values":[95,85,60,40,15,5],"labelExpr":"format(datum.value,'.4f')","labelColor":"#ffffff","labelFontSize":5.2,"tickSize":1,"labelPadding":2}},"y2":{"field":"hi"}}},
{"data":{"values":[{"level":85},{"level":60},{"level":40},{"level":15}]},"mark":{"type":"rule","color":"#303030","strokeWidth":1,"strokeDash":[5,3]},"encoding":{"y":{"field":"level","type":"quantitative","scale":{"domain":[0.2,98],"nice":false,"zero":false},"axis":null}}},
{"data":{"values":[{"level":95},{"level":5}]},"mark":{"type":"rule","color":"#303030","strokeWidth":1,"strokeDash":[1,2]},"encoding":{"y":{"field":"level","type":"quantitative","scale":{"domain":[0.2,98],"nice":false,"zero":false},"axis":null}}},
{"data":{"values":[{"level":75},{"level":66}]},"mark":{"type":"rule","color":"#ff0000","strokeWidth":2.5},"encoding":{"y":{"field":"level","type":"quantitative","scale":{"domain":[0.2,98],"nice":false,"zero":false},"axis":null}}},
{"data":{"values":[{"level":34},{"level":25}]},"mark":{"type":"rule","color":"#0000ff","strokeWidth":2.5},"encoding":{"y":{"field":"level","type":"quantitative","scale":{"domain":[0.2,98],"nice":false,"zero":false},"axis":null}}},
{"data":{"name":"stF"},"mark":{"type":"line","color":"#000000","strokeWidth":3.2,"clip":true,"interpolate":"monotone"},"encoding":{"x":{"field":"d","type":"temporal","scale":{"type":"utc","domain":[{"year":2021,"month":6,"date":11,"hours":12,"utc":true},{"year":2024,"month":7,"date":16,"hours":10,"utc":true}]},"axis":null},"y":{"field":"v","type":"quantitative","scale":{"domain":[0.2,98],"nice":false,"zero":false},"axis":null}}},
{"data":{"name":"stE"},"mark":{"type":"line","color":"#000000","strokeWidth":1,"clip":true,"interpolate":"monotone"},"encoding":{"x":{"field":"d","type":"temporal","scale":{"type":"utc","domain":[{"year":2021,"month":6,"date":11,"hours":12,"utc":true},{"year":2024,"month":7,"date":16,"hours":10,"utc":true}]},"axis":null},"y":{"field":"v","type":"quantitative","scale":{"domain":[0.2,98],"nice":false,"zero":false},"axis":null}}},
{"data":{"name":"stC"},"mark":{"type":"line","color":"#ff0000","strokeWidth":1.3,"clip":true,"interpolate":"monotone"},"encoding":{"x":{"field":"d","type":"temporal","scale":{"type":"utc","domain":[{"year":2021,"month":6,"date":11,"hours":12,"utc":true},{"year":2024,"month":7,"date":16,"hours":10,"utc":true}]},"axis":null},"y":{"field":"v","type":"quantitative","scale":{"domain":[0.2,98],"nice":false,"zero":false},"axis":null}}},
{"data":{"name":"stD"},"mark":{"type":"line","color":"#0000ff","strokeWidth":1.3,"clip":true,"interpolate":"monotone"},"encoding":{"x":{"field":"d","type":"temporal","scale":{"type":"utc","domain":[{"year":2021,"month":6,"date":11,"hours":12,"utc":true},{"year":2024,"month":7,"date":16,"hours":10,"utc":true}]},"axis":null},"y":{"field":"v","type":"quantitative","scale":{"domain":[0.2,98],"nice":false,"zero":false},"axis":null}}},
{"data":{"name":"stB"},"mark":{"type":"line","color":"#00ff00","strokeWidth":1.3,"clip":true,"interpolate":"monotone"},"encoding":{"x":{"field":"d","type":"temporal","scale":{"type":"utc","domain":[{"year":2021,"month":6,"date":11,"hours":12,"utc":true},{"year":2024,"month":7,"date":16,"hours":10,"utc":true}]},"axis":null},"y":{"field":"v","type":"quantitative","scale":{"domain":[0.2,98],"nice":false,"zero":false},"axis":null}}},
{"data":{"name":"stA"},"mark":{"type":"line","color":"#ffffff","strokeWidth":1.5,"clip":true,"interpolate":"monotone"},"encoding":{"x":{"field":"d","type":"temporal","scale":{"type":"utc","domain":[{"year":2021,"month":6,"date":11,"hours":12,"utc":true},{"year":2024,"month":7,"date":16,"hours":10,"utc":true}]},"axis":null},"y":{"field":"v","type":"quantitative","scale":{"domain":[0.2,98],"nice":false,"zero":false},"axis":null}}},
{"data":{"name":"stHeader"},"mark":{"type":"text","align":"left","baseline":"alphabetic","fontSize":5.6,"color":"#1a1a1a"},"encoding":{"x":{"field":"d","type":"temporal","scale":{"type":"utc","domain":[{"year":2021,"month":6,"date":11,"hours":12,"utc":true},{"year":2024,"month":7,"date":16,"hours":10,"utc":true}]},"axis":null},"y":{"field":"v","type":"quantitative","scale":{"domain":[0.2,98],"nice":false,"zero":false},"axis":null},"text":{"field":"t"}}},
{"data":{"values":[{"level":95},{"level":85},{"level":60},{"level":40},{"level":15},{"level":5}]},"mark":{"type":"point","shape":"M-1,-0.333H1V0.333H-1Z","size":441,"filled":true,"color":"#000000","opacity":1},"encoding":{"x":{"datum":{"year":2024,"month":8,"date":2,"utc":true},"type":"temporal","scale":{"type":"utc","domain":[{"year":2021,"month":6,"date":11,"hours":12,"utc":true},{"year":2024,"month":7,"date":16,"hours":10,"utc":true}]},"axis":null},"y":{"field":"level","type":"quantitative","scale":{"domain":[0.2,98],"nice":false,"zero":false},"axis":null}}},
{"data":{"values":[{"level":75},{"level":66}]},"mark":{"type":"point","shape":"M-1,-0.875H1V0.875H-1Z","size":64,"filled":true,"color":"#ff0000","opacity":1},"encoding":{"x":{"datum":{"year":2024,"month":7,"date":21,"utc":true},"type":"temporal","scale":{"type":"utc","domain":[{"year":2021,"month":6,"date":11,"hours":12,"utc":true},{"year":2024,"month":7,"date":16,"hours":10,"utc":true}]},"axis":null},"y":{"field":"level","type":"quantitative","scale":{"domain":[0.2,98],"nice":false,"zero":false},"axis":null}}},
{"data":{"values":[{"level":34},{"level":25}]},"mark":{"type":"point","shape":"M-1,-0.875H1V0.875H-1Z","size":64,"filled":true,"color":"#0000ff","opacity":1},"encoding":{"x":{"datum":{"year":2024,"month":7,"date":21,"utc":true},"type":"temporal","scale":{"type":"utc","domain":[{"year":2021,"month":6,"date":11,"hours":12,"utc":true},{"year":2024,"month":7,"date":16,"hours":10,"utc":true}]},"axis":null},"y":{"field":"level","type":"quantitative","scale":{"domain":[0.2,98],"nice":false,"zero":false},"axis":null}}},
{"data":{"values":[{"level":75},{"level":66},{"level":34},{"level":25}]},"mark":{"type":"text","fontSize":5.2,"color":"#000000","align":"center","baseline":"middle"},"encoding":{"x":{"datum":{"year":2024,"month":7,"date":21,"utc":true},"type":"temporal","scale":{"type":"utc","domain":[{"year":2021,"month":6,"date":11,"hours":12,"utc":true},{"year":2024,"month":7,"date":16,"hours":10,"utc":true}]},"axis":null},"y":{"field":"level","type":"quantitative","scale":{"domain":[0.2,98],"nice":false,"zero":false},"axis":null},"text":{"field":"level"}}}
]},
{"width":774,"height":103,
"resolve":{"axis":{"x":"independent","y":"independent"}},
"layer":[
{"data":{"values":[{"level":0}]},"mark":{"type":"rule","color":"#ffff00","strokeWidth":1.5},"encoding":{"y":{"field":"level","type":"quantitative","scale":{"domain":[-5.9,6.3],"nice":false,"zero":false},"axis":{"orient":"right","title":null,"zindex":1,"labelOverlap":false,"values":[5.87,0,-5.55],"format":".2f","tickSize":2,"labelPadding":1,"labelColor":{"condition":{"test":"datum.value == 0","value":"#ffffff"},"value":"#000000"}}}}},
{"data":{"values":[{"level":0}]},"mark":{"type":"point","shape":"M-1,-0.5H1V0.5H-1Z","size":196,"filled":true,"color":"#000000","opacity":1},"encoding":{"x":{"datum":{"year":2024,"month":7,"date":29,"utc":true},"type":"temporal","scale":{"type":"utc","domain":[{"year":2021,"month":6,"date":11,"hours":12,"utc":true},{"year":2024,"month":7,"date":16,"hours":10,"utc":true}]},"axis":null},"y":{"field":"level","type":"quantitative","scale":{"domain":[-5.9,6.3],"nice":false,"zero":false},"axis":null}}},
{"data":{"name":"macd"},"mark":{"type":"line","color":"#000000","strokeWidth":1,"interpolate":"monotone"},"encoding":{"x":{"field":"d","type":"temporal","scale":{"type":"utc","domain":[{"year":2021,"month":6,"date":11,"hours":12,"utc":true},{"year":2024,"month":7,"date":16,"hours":10,"utc":true}]},"axis":{"orient":"bottom","title":null,"zindex":1,"labelOverlap":false,"values":[{"year":2021,"month":6,"date":13,"utc":true},{"year":2021,"month":8,"date":8,"utc":true},{"year":2021,"month":10,"date":3,"utc":true},{"year":2021,"month":11,"date":28,"utc":true},{"year":2022,"month":1,"date":23,"utc":true},{"year":2022,"month":3,"date":20,"utc":true},{"year":2022,"month":5,"date":15,"utc":true},{"year":2022,"month":7,"date":10,"utc":true},{"year":2022,"month":9,"date":4,"utc":true},{"year":2022,"month":10,"date":30,"utc":true},{"year":2022,"month":12,"date":25,"utc":true},{"year":2023,"month":2,"date":19,"utc":true},{"year":2023,"month":4,"date":16,"utc":true},{"year":2023,"month":6,"date":11,"utc":true},{"year":2023,"month":8,"date":6,"utc":true},{"year":2023,"month":10,"date":1,"utc":true},{"year":2023,"month":11,"date":26,"utc":true}],"labelExpr":"utcFormat(datum.value, '%-d %b %Y')","labelAlign":"left","labelOffset":-1.5,"tickSize":2,"labelPadding":1.5,"labelFlush":false,"labelBound":false}},"y":{"field":"v","type":"quantitative","scale":{"domain":[-5.9,6.3],"nice":false,"zero":false},"axis":null}}},
{"data":{"name":"mBull"},"mark":{"type":"line","color":"#0000ff","strokeWidth":3},"encoding":{"x":{"field":"d","type":"temporal","scale":{"type":"utc","domain":[{"year":2021,"month":6,"date":11,"hours":12,"utc":true},{"year":2024,"month":7,"date":16,"hours":10,"utc":true}]},"axis":null},"y":{"field":"v","type":"quantitative","scale":{"domain":[-5.9,6.3],"nice":false,"zero":false},"axis":null}}},
{"data":{"name":"mBear"},"mark":{"type":"line","color":"#ff0000","strokeWidth":3},"encoding":{"x":{"field":"d","type":"temporal","scale":{"type":"utc","domain":[{"year":2021,"month":6,"date":11,"hours":12,"utc":true},{"year":2024,"month":7,"date":16,"hours":10,"utc":true}]},"axis":null},"y":{"field":"v","type":"quantitative","scale":{"domain":[-5.9,6.3],"nice":false,"zero":false},"axis":null}}},
{"data":{"name":"mBlack"},"mark":{"type":"line","color":"#000000","strokeWidth":3},"encoding":{"x":{"field":"d","type":"temporal","scale":{"type":"utc","domain":[{"year":2021,"month":6,"date":11,"hours":12,"utc":true},{"year":2024,"month":7,"date":16,"hours":10,"utc":true}]},"axis":null},"y":{"field":"v","type":"quantitative","scale":{"domain":[-5.9,6.3],"nice":false,"zero":false},"axis":null},"detail":{"field":"seg"}}},
{"data":{"name":"mBlack"},"mark":{"type":"point","shape":"square","size":22,"filled":true,"color":"#000000","opacity":1},"encoding":{"x":{"field":"d","type":"temporal","scale":{"type":"utc","domain":[{"year":2021,"month":6,"date":11,"hours":12,"utc":true},{"year":2024,"month":7,"date":16,"hours":10,"utc":true}]},"axis":null},"y":{"field":"v","type":"quantitative","scale":{"domain":[-5.9,6.3],"nice":false,"zero":false},"axis":null}}},
{"data":{"name":"mArrowUp"},"mark":{"type":"text","color":"#3a5cff","fontSize":7,"font":"DejaVu Sans"},"encoding":{"x":{"field":"d","type":"temporal","scale":{"type":"utc","domain":[{"year":2021,"month":6,"date":11,"hours":12,"utc":true},{"year":2024,"month":7,"date":16,"hours":10,"utc":true}]},"axis":null},"y":{"field":"v","type":"quantitative","scale":{"domain":[-5.9,6.3],"nice":false,"zero":false},"axis":null},"text":{"field":"sym"}}},
{"data":{"name":"mArrowDn"},"mark":{"type":"text","color":"#ff3030","fontSize":7,"font":"DejaVu Sans"},"encoding":{"x":{"field":"d","type":"temporal","scale":{"type":"utc","domain":[{"year":2021,"month":6,"date":11,"hours":12,"utc":true},{"year":2024,"month":7,"date":16,"hours":10,"utc":true}]},"axis":null},"y":{"field":"v","type":"quantitative","scale":{"domain":[-5.9,6.3],"nice":false,"zero":false},"axis":null},"text":{"field":"sym"}}},
{"data":{"name":"mHeader"},"mark":{"type":"text","align":"left","baseline":"alphabetic","fontSize":5.6,"color":"#1a1a1a"},"encoding":{"x":{"field":"d","type":"temporal","scale":{"type":"utc","domain":[{"year":2021,"month":6,"date":11,"hours":12,"utc":true},{"year":2024,"month":7,"date":16,"hours":10,"utc":true}]},"axis":null},"y":{"field":"v","type":"quantitative","scale":{"domain":[-5.9,6.3],"nice":false,"zero":false},"axis":null},"text":{"field":"t"}}}
]}
]
}
